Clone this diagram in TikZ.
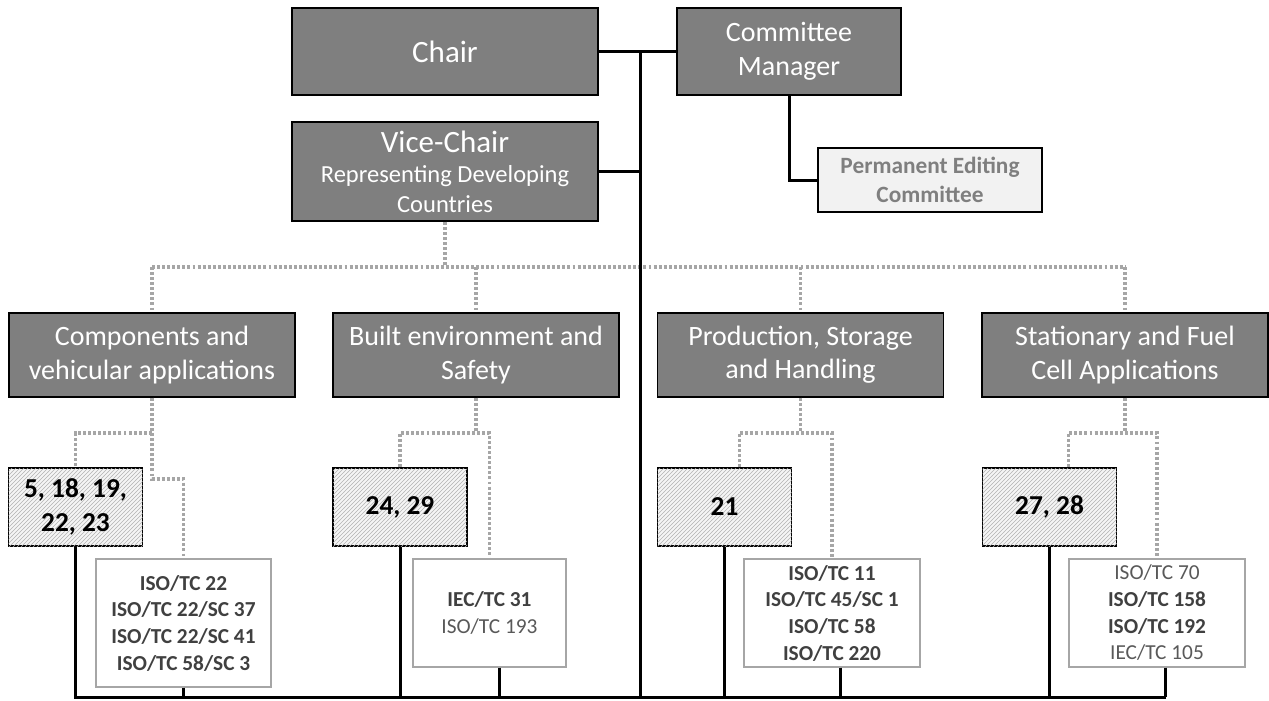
\documentclass[tikz,border=0pt]{standalone}
\usepackage{fontspec}
\setmainfont{Carlito}
\usetikzlibrary{patterns}
\definecolor{boxgray}{RGB}{127,127,127}
\definecolor{dotgray}{RGB}{166,166,166}
\definecolor{pecfill}{RGB}{242,242,242}
\definecolor{txtdark}{RGB}{64,64,64}
\definecolor{txtlight}{RGB}{89,89,89}

\begin{document}
\begin{tikzpicture}[x=0.75pt,y=0.75pt,yscale=-1,xscale=1,
  darkbox/.style={draw=black,line width=1.1pt,fill=boxgray,text=white,align=center,inner sep=0pt},
  pecbox/.style={draw=black,line width=1.1pt,fill=pecfill,text=boxgray,align=center,inner sep=0pt,
    font=\bfseries\fontsize{17.5}{22}\selectfont},
  wgbox/.style={draw=black,line width=1.1pt,fill=gray!8,align=center,inner sep=0pt,
    minimum width=100.5pt,minimum height=58.5pt,
    postaction={pattern=north east lines,pattern color=gray!60},
    font=\bfseries\fontsize{20.5}{25}\selectfont},
  tcbox/.style={draw=dotgray,line width=1pt,fill=white,text=txtdark,align=center,inner sep=0pt,
    font=\fontsize{16}{20}\selectfont},
  link/.style={line width=2.25pt},
  dotlink/.style={draw=dotgray,line width=2.3pt,dash pattern=on 2.2pt off 1.6pt}]
%uncomment if require: \path (0,700); %set diagram left start at 0, and has height of 700
\useasboundingbox (0,0) rectangle (1269,700);

% Top boxes
\node[darkbox,minimum width=229.5pt,minimum height=65.25pt,font=\fontsize{23.25}{28}\selectfont] (chair) at (445,51.5) {Chair};
\node[darkbox,minimum width=168pt,minimum height=65.25pt,font=\fontsize{21}{25.5}\selectfont] (mgr) at (789,51.5) {Committee\\Manager};
\node[darkbox,minimum width=229.5pt,minimum height=74.25pt,font=\fontsize{18.4}{22.5}\selectfont] (vice) at (445,171.5)
  {{\fontsize{23.25}{24}\selectfont Vice-Chair}\\Representing Developing\\Countries};
\node[pecbox,minimum width=168pt,minimum height=48pt] (pec) at (930,180) {Permanent Editing\\Committee};

% Working group areas
\node[darkbox,minimum width=214.5pt,minimum height=63pt,font=\fontsize{21}{25}\selectfont] (g1) at (152,355) {Components and\\vehicular applications};
\node[darkbox,minimum width=214.5pt,minimum height=63pt,font=\fontsize{21}{25}\selectfont] (g2) at (476,355) {Built environment and\\Safety};
\node[darkbox,minimum width=214.5pt,minimum height=63pt,font=\fontsize{21}{25}\selectfont] (g3) at (800.5,355) {Production, Storage\\and Handling};
\node[darkbox,minimum width=214.5pt,minimum height=63pt,font=\fontsize{21}{25}\selectfont] (g4) at (1125,355) {Stationary and Fuel\\Cell Applications};

% Working groups
\node[wgbox] (h1) at (75.5,507) {5, 18, 19,\\22, 23};
\node[wgbox] (h2) at (400,507) {24, 29};
\node[wgbox] (h3) at (724.5,507) {21};
\node[wgbox] (h4) at (1049.5,507) {27, 28};

% Liaison committees
\node[tcbox,minimum width=131.25pt,minimum height=96pt] (w1) at (183.5,623)
  {\textbf{ISO/TC 22}\\\textbf{ISO/TC 22/SC 37}\\\textbf{ISO/TC 22/SC 41}\\\textbf{ISO/TC 58/SC 3}};
\node[tcbox,minimum width=114.75pt,minimum height=81pt] (w2) at (489.5,613)
  {\textbf{IEC/TC 31}\\{\color{txtlight}ISO/TC 193}};
\node[tcbox,minimum width=132pt,minimum height=81pt] (w3) at (832,613)
  {\textbf{ISO/TC 11}\\\textbf{ISO/TC 45/SC 1}\\\textbf{ISO/TC 58}\\\textbf{ISO/TC 220}};
\node[tcbox,minimum width=132pt,minimum height=81pt] (w4) at (1157,613)
  {{\color{txtlight}ISO/TC 70}\\\textbf{ISO/TC 158}\\\textbf{ISO/TC 192}\\{\color{txtlight}IEC/TC 105}};

% Junctions
\coordinate (hub) at (640,51.5);
\coordinate (bus) at (640,697);
\coordinate (bar) at (640,267);
\coordinate (j1) at (152,433);
\coordinate (k1) at (152,479);
\coordinate (j2) at (476,433);
\coordinate (j3) at (800.5,433);
\coordinate (j4) at (1125,433);
\coordinate (h3in) at ([xshift=10.9pt]h3.north);
\coordinate (h4in) at ([xshift=13.9pt]h4.north);
\coordinate (w2out) at ([xshift=7.5pt]w2.south);
\coordinate (w3out) at ([xshift=6pt]w3.south);
\coordinate (w4out) at ([xshift=6pt]w4.south);

%Dotted Lines
\draw[dotlink] (vice.south) -- (vice.south |- bar);
\draw[dotlink] (g1.north |- bar) -- (g4.north |- bar);
\draw[dotlink] (g1.north |- bar) -- (g1.north);
\draw[dotlink] (g2.north |- bar) -- (g2.north);
\draw[dotlink] (g3.north |- bar) -- (g3.north);
\draw[dotlink] (g4.north |- bar) -- (g4.north);
\draw[dotlink] (g1.south) -- (j1) -| (h1.north);
\draw[dotlink] (j1) -- (k1) -| (w1.north);
\draw[dotlink] (g2.south) -- (j2);
\draw[dotlink] (h2.north) |- (j2) -| (w2.north);
\draw[dotlink] (g3.south) -- (j3);
\draw[dotlink] (h3in) |- (j3) -| (w3.north);
\draw[dotlink] (g4.south) -- (j4);
\draw[dotlink] (h4in) |- (j4) -| (w4.north);

%Straight Lines
\draw[link] (chair.east) -- (mgr.west);
\draw[link] (hub) -- (bus);
\draw[link] (vice.east) -- (vice.east -| hub);
\draw[link] (mgr.south) |- (pec.west);
\draw[link] (h1.south) -- (h1.south |- bus);
\draw[link] (w1.south) -- (w1.south |- bus);
\draw[link] (h2.south) -- (h2.south |- bus);
\draw[link] (w2out) -- (w2out |- bus);
\draw[link] (h3.south) -- (h3.south |- bus);
\draw[link] (w3out) -- (w3out |- bus);
\draw[link] (h4.south) -- (h4.south |- bus);
\draw[link] (w4out) -- (w4out |- bus);
\draw[link] ([xshift=-1.1pt]h1.south |- bus) -- ([xshift=1.1pt]w4out |- bus);

\end{tikzpicture}
\end{document}
